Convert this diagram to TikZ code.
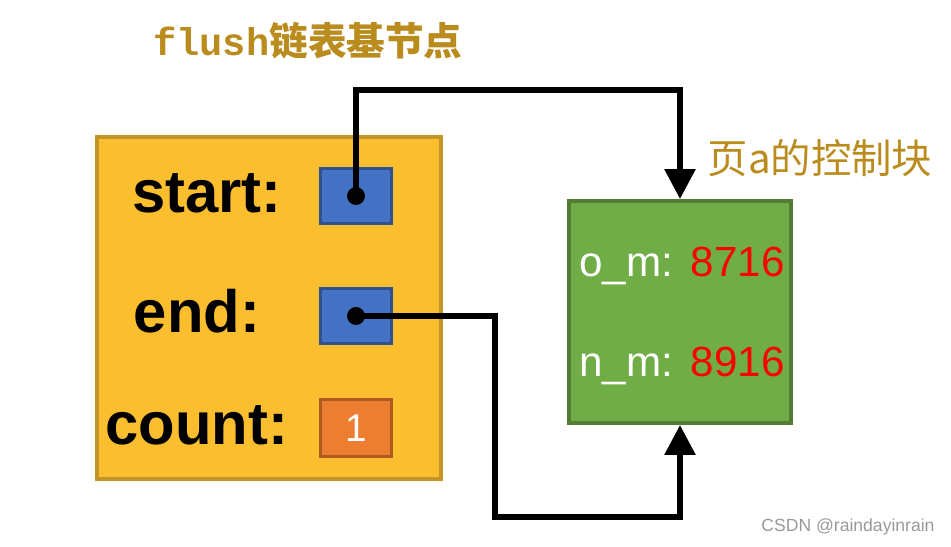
\documentclass[tikz,border=0pt]{standalone}
\usepackage{fontspec}
\setmainfont{Liberation Sans}
\newfontfamily\cjk{Noto Sans CJK SC}
\newfontfamily\monob{Liberation Mono}
\usetikzlibrary{positioning,arrows.meta}
\definecolor{nodegold}{RGB}{251,190,46}
\definecolor{nodegoldline}{RGB}{196,148,38}
\definecolor{ptrblue}{RGB}{68,114,196}
\definecolor{ptrblueline}{RGB}{47,82,143}
\definecolor{cntorange}{RGB}{237,125,49}
\definecolor{cntorangeline}{RGB}{174,90,33}
\definecolor{pagegreen}{RGB}{112,173,71}
\definecolor{pagegreenline}{RGB}{80,126,50}
\definecolor{notegold}{RGB}{186,140,30}

\begin{document}
\begin{tikzpicture}[
  x=0.02cm, y=-0.02cm,
  pointer/.style={
    line width=1.2mm,
    -{Triangle[length=6mm,width=6mm]}
  },
  cell/.style={
    draw=ptrblueline,
    fill=ptrblue,
    line width=0.6mm,
    minimum width=1.44cm,
    minimum height=1.12cm,
    inner sep=0pt
  },
  field/.style={font=\fontsize{34}{40}\selectfont\bfseries, anchor=base},
  pagefield/.style={font=\fontsize{24}{28}\selectfont, text=white, anchor=base west},
  pageval/.style={font=\fontsize{24}{28}\selectfont, text=red, anchor=base east},
  note/.style={font=\fontsize{22}{26}\selectfont, text=notegold}
]
\useasboundingbox (0,0) rectangle (951,547);

% the flush list base node
\node[draw=nodegoldline, fill=nodegold, line width=0.8mm,
      minimum width=6.88cm, minimum height=6.86cm] (flush) at (269,308) {};
\node[field] (startlbl) at (207,213) {start:};
\node[field] (endlbl) at (197,333) {end:};
\node[field] (countlbl) at (197,445) {count:};
\node[cell] (start) at (356,196) {};
\node[cell] (end) at (356,316) {};
\node[cell, draw=cntorangeline, fill=cntorange, minimum height=1.16cm,
      text=white, font=\fontsize{22}{26}\selectfont] (count) at (356,428) {1};

% control block of page a
\node[draw=pagegreenline, fill=pagegreen, line width=0.8mm,
      minimum width=4.44cm, minimum height=4.44cm] (page) at (680,312) {};
\node[pagefield] (om) at (573,277) {o\_m:};
\node[pageval] (omval) at (791,277) {8716};
\node[pagefield] (nm) at (573,377) {n\_m:};
\node[pageval] (nmval) at (791,377) {8916};

% labels
\node[note] (title) at (308,41) {\monob\bfseries flush\cjk 链表基节点};
\node[note, font=\fontsize{23}{27}\selectfont] (pagetitle) at (820,158) {\cjk 页a的控制块};
\node[text=black!40, font=\fontsize{10}{12}\selectfont] (mark) at (848,527) {CSDN @raindayinrain};

% pointers
\coordinate (top) at (520,90);
\coordinate (bend) at (495,517);
\draw[pointer] (start.center) |- (top) -| (page.north);
\draw[pointer] (end.center) -| (bend) -| (page.south);
\fill (start.center) circle (9);
\fill (end.center) circle (9);
\end{tikzpicture}
\end{document}
